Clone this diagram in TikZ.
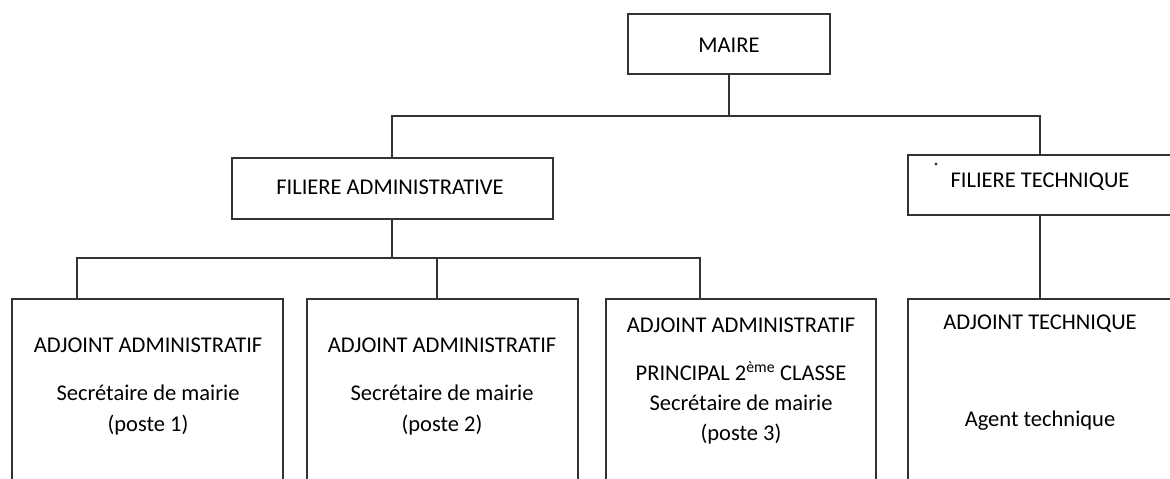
\documentclass[tikz,border=0pt]{standalone}
\usepackage{fontspec}
\setmainfont{Carlito}
\begin{document}
\begin{tikzpicture}[x=1pt,y=-1pt,
  box/.style={draw=black!80,line width=2pt,rectangle,inner sep=0pt,outer sep=0pt},
  lbl/.style={inner sep=0pt,anchor=center,text=black,font=\fontsize{22.5}{27}\selectfont},
  conn/.style={draw=black!80,line width=2pt}]
\useasboundingbox (0,0) rectangle (1170,479);
\fill[white] (0,0) rectangle (1170,479);
% boxes
\node[box,minimum width=202pt,minimum height=60pt] (maire) at (729,44) {};
\node[box,minimum width=321pt,minimum height=61pt] (admin) at (392,188.5) {};
\node[box,minimum width=264pt,minimum height=60pt] (tech) at (1040,185) {};
\node[box,minimum width=271pt,minimum height=210pt] (p1) at (147.5,404) {};
\node[box,minimum width=271pt,minimum height=210pt] (p2) at (442.5,404) {};
\node[box,minimum width=270pt,minimum height=210pt] (p3) at (741,404) {};
\node[box,minimum width=264pt,minimum height=210pt] (p4) at (1040,404) {};
% texts
\node[lbl] (tmaire) at (729,45) {MAIRE};
\node[lbl] (tadmin) at (390,187) {FILIERE ADMINISTRATIVE};
\node[lbl] (ttech) at (1040,182) {FILIERE TECHNIQUE};
\node[lbl] (t1a) at (148,345) {ADJOINT ADMINISTRATIF};
\node[lbl] (t1b) at (148,393) {Secrétaire de mairie};
\node[lbl] (t1c) at (148,425) {(poste 1)};
\node[lbl] (t2a) at (442,345) {ADJOINT ADMINISTRATIF};
\node[lbl] (t2b) at (442,393) {Secrétaire de mairie};
\node[lbl] (t2c) at (442,425) {(poste 2)};
\node[lbl] (t3a) at (741,325) {ADJOINT ADMINISTRATIF};
\node[lbl] (t3b) at (741,371) {PRINCIPAL 2\textsuperscript{ème} CLASSE};
\node[lbl] (t3c) at (741,403) {Secrétaire de mairie};
\node[lbl] (t3d) at (741,434) {(poste 3)};
\node[lbl] (t4a) at (1040,324) {ADJOINT TECHNIQUE};
\node[lbl] (t4b) at (1040,421) {Agent technique};
% stray dot of the scan
\fill[black!80] (936,164) circle (1.6pt);
% connectors
\coordinate (b1) at (729,116);
\coordinate (b2) at (392,258);
\coordinate (c1) at (77,299);
\coordinate (c2) at (437,299);
\coordinate (c3) at (700,299);
\draw[conn] (maire.south) -- (b1);
\draw[conn] (admin.north) |- (b1) -| (tech.north);
\draw[conn] (admin.south) -- (b2);
\draw[conn] (c1) |- (b2) -| (c3);
\draw[conn] (c2) -- (c2 |- b2);
\draw[conn] (tech.south) -- (p4.north);
\end{tikzpicture}
\end{document}
